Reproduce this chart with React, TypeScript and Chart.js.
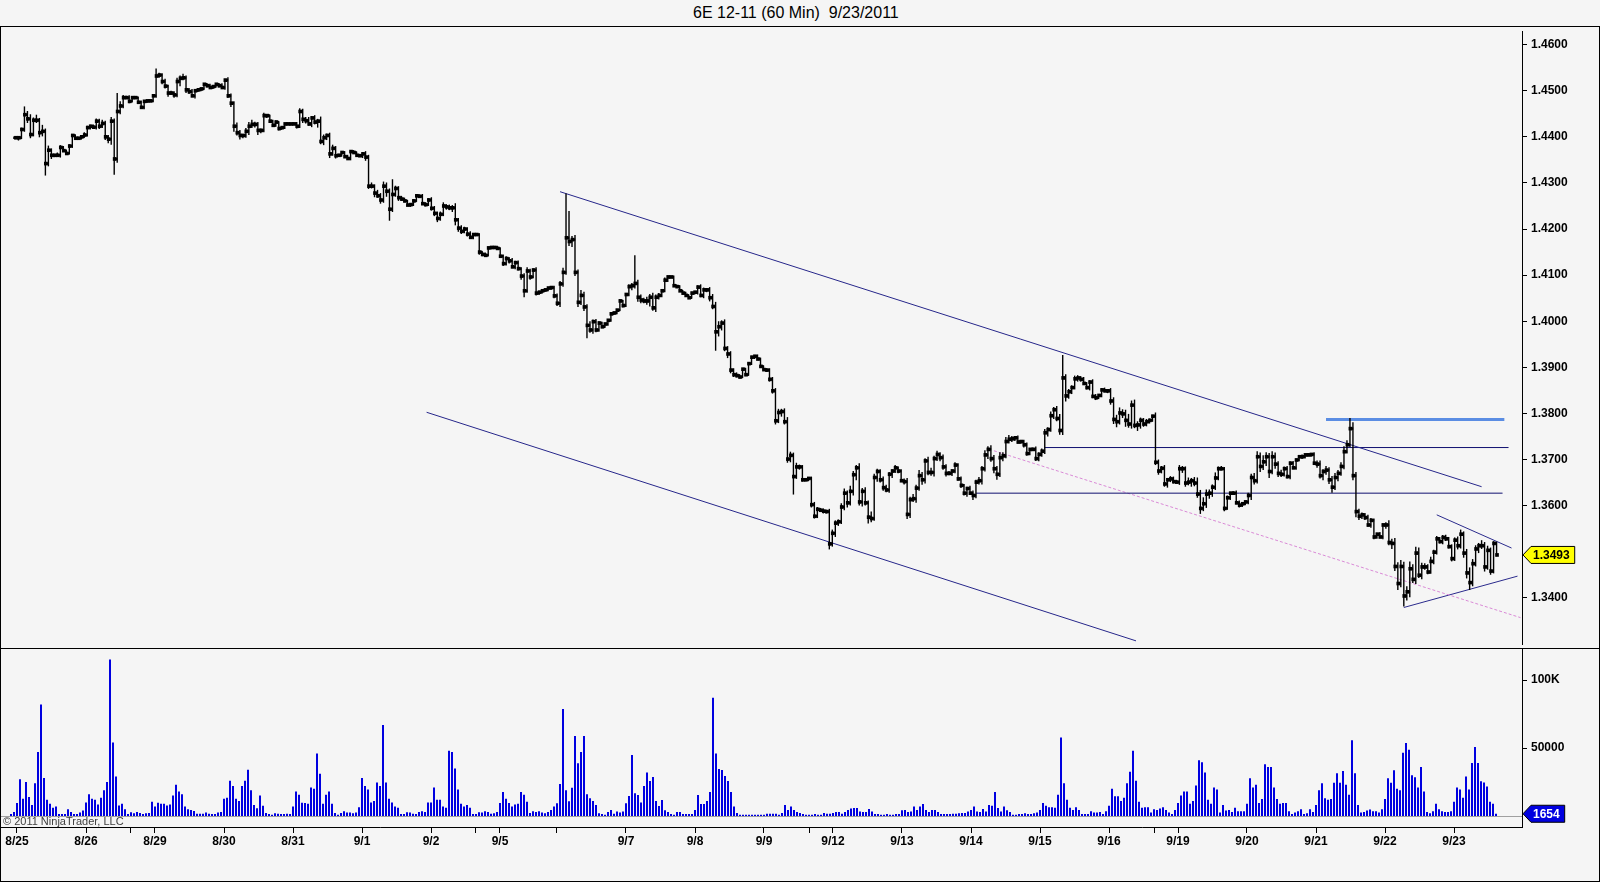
import { useEffect, useRef } from "react";
import { Chart, registerables, Plugin } from "chart.js";

Chart.register(...registerables);
Chart.defaults.font.family = "'Liberation Sans', Arial, sans-serif";

// 6E 12-11, 60 min bars, one row per session (closes)
const closes = [
  1.4398, 1.4398,
  1.4416, 1.4448, 1.4439, 1.4405, 1.4436, 1.4436, 1.4409, 1.4412, 1.4342, 1.4371, 1.4360, 1.4360, 1.4360, 1.4377, 1.4370, 1.4364, 1.4380, 1.4403, 1.4397, 1.4397, 1.4400, 1.4404, 1.4420,
  1.4423, 1.4421, 1.4434, 1.4423, 1.4429, 1.4400, 1.4395, 1.4434, 1.4352, 1.4455, 1.4467, 1.4485, 1.4485, 1.4477, 1.4485,
  1.4485, 1.4475, 1.4464, 1.4477, 1.4478, 1.4478, 1.4489, 1.4532,
  1.4534, 1.4520, 1.4510, 1.4495, 1.4495, 1.4491, 1.4520, 1.4527, 1.4528, 1.4502, 1.4498, 1.4489, 1.4500, 1.4502, 1.4504, 1.4514, 1.4511, 1.4507, 1.4509, 1.4514, 1.4511, 1.4507, 1.4523,
  1.4489, 1.4473, 1.4423, 1.4409, 1.4403, 1.4403, 1.4412, 1.4423, 1.4427, 1.4427, 1.4414, 1.4414, 1.4446, 1.4446, 1.4434, 1.4425, 1.4432, 1.4418, 1.4420, 1.4428, 1.4428, 1.4428, 1.4428,
  1.4423, 1.4455, 1.4438, 1.4435, 1.4428, 1.4441, 1.4432, 1.4434, 1.4390, 1.4398, 1.4403, 1.4363, 1.4375, 1.4359, 1.4360, 1.4366, 1.4357, 1.4353, 1.4368, 1.4366, 1.4360, 1.4359, 1.4363,
  1.4356, 1.4293, 1.4293, 1.4278, 1.4272, 1.4263, 1.4293, 1.4282, 1.4243, 1.4275, 1.4288, 1.4268, 1.4265, 1.4261, 1.4252, 1.4253, 1.4261, 1.4272, 1.4271, 1.4255, 1.4253, 1.4263, 1.4245,
  1.4234, 1.4223, 1.4232, 1.4250, 1.4248, 1.4246, 1.4246, 1.4220, 1.4202, 1.4195, 1.4200, 1.4189, 1.4182, 1.4188, 1.4188,
  1.4150, 1.4145, 1.4143, 1.4159, 1.4160, 1.4160, 1.4158, 1.4141,
  1.4125, 1.4136, 1.4131, 1.4118, 1.4127, 1.4114, 1.4098, 1.4066, 1.4109, 1.4096, 1.4111, 1.4061, 1.4063, 1.4066, 1.4068, 1.4072, 1.4073, 1.4055, 1.4039,
  1.4081, 1.4106, 1.4181, 1.4173, 1.4177, 1.4106, 1.4041, 1.4056, 1.4031, 1.3991, 1.3981, 1.3999, 1.3981, 1.3996, 1.3988, 1.3994, 1.4002, 1.4016, 1.4018, 1.4024, 1.4044, 1.4034, 1.4058,
  1.4075, 1.4077, 1.4082, 1.4052, 1.4046, 1.4044, 1.4044, 1.4052, 1.4029, 1.4052, 1.4056, 1.4066, 1.4089, 1.4096, 1.4096, 1.4077, 1.4075, 1.4066, 1.4061, 1.4056, 1.4051, 1.4061, 1.4063,
  1.4074, 1.4056, 1.4068, 1.4068, 1.4051, 1.4032, 1.3977, 1.3988, 1.3996, 1.3941, 1.3929, 1.3894, 1.3884, 1.3882, 1.3879, 1.3896, 1.3884, 1.3908, 1.3922, 1.3924, 1.3918, 1.3902, 1.3895,
  1.3894, 1.3874, 1.3849, 1.3784, 1.3802, 1.3804, 1.3782, 1.3701, 1.3709, 1.3663, 1.3684, 1.3684, 1.3656, 1.3656, 1.3659,
  1.3602, 1.3577, 1.3592, 1.3590, 1.3588, 1.3587, 1.3517, 1.3540,
  1.3562, 1.3565, 1.3597, 1.3627, 1.3606, 1.3631, 1.3667, 1.3682, 1.3608, 1.3631, 1.3606, 1.3575, 1.3572, 1.3661, 1.3674, 1.3656, 1.3639, 1.3634, 1.3668, 1.3675, 1.3682, 1.3675, 1.3654,
  1.3652, 1.3581, 1.3613, 1.3615, 1.3638, 1.3665, 1.3656, 1.3697, 1.3672, 1.3672, 1.3702, 1.3711, 1.3704, 1.3684, 1.3670, 1.3670, 1.3675, 1.3688, 1.3658, 1.3644, 1.3627, 1.3637, 1.3627,
  1.3622, 1.3651, 1.3654, 1.3680, 1.3710, 1.3722, 1.3702, 1.3680, 1.3668, 1.3704, 1.3708, 1.3739, 1.3744, 1.3745, 1.3747, 1.3738, 1.3739, 1.3732, 1.3713, 1.3722, 1.3722, 1.3702, 1.3711,
  1.3718, 1.3758, 1.3765, 1.3795, 1.3808, 1.3789, 1.3763, 1.3877, 1.3838, 1.3847, 1.3856, 1.3875, 1.3877, 1.3874, 1.3865, 1.3856, 1.3868, 1.3837, 1.3834, 1.3839, 1.3851, 1.3849, 1.3849,
  1.3827, 1.3787, 1.3782, 1.3801, 1.3799, 1.3785, 1.3777, 1.3818, 1.3774, 1.3775, 1.3785, 1.3777, 1.3782, 1.3785, 1.3794,
  1.3694, 1.3675, 1.3681, 1.3647, 1.3656, 1.3658, 1.3652, 1.3651,
  1.3680, 1.3680, 1.3649, 1.3651, 1.3654, 1.3649, 1.3625, 1.3594, 1.3604, 1.3625, 1.3627, 1.3640, 1.3660, 1.3680, 1.3680, 1.3594, 1.3617, 1.3627, 1.3627, 1.3606, 1.3601, 1.3604, 1.3608,
  1.3622, 1.3661, 1.3654, 1.3706, 1.3685, 1.3695, 1.3706, 1.3674, 1.3706, 1.3690, 1.3670, 1.3668, 1.3680, 1.3663, 1.3692, 1.3682, 1.3699, 1.3706, 1.3706, 1.3710, 1.3710, 1.3711, 1.3692,
  1.3690, 1.3665, 1.3674, 1.3677, 1.3656, 1.3640, 1.3661, 1.3670, 1.3685, 1.3717, 1.3732, 1.3767, 1.3665, 1.3587, 1.3577, 1.3580, 1.3574, 1.3558, 1.3568, 1.3532, 1.3538, 1.3532, 1.3558,
  1.3558, 1.3520, 1.3518, 1.3468, 1.3431, 1.3468, 1.3404, 1.3413, 1.3463, 1.3440, 1.3497, 1.3449, 1.3467, 1.3467, 1.3456, 1.3479, 1.3499, 1.3528, 1.3522, 1.3531, 1.3528, 1.3511, 1.3485,
  1.3525, 1.3513, 1.3538, 1.3497, 1.3454, 1.3433, 1.3474, 1.3506, 1.3513, 1.3513, 1.3467, 1.3503, 1.3458, 1.3518, 1.3493,
];

// wick beyond the open/close body, in pips
const wickUpPips = [
  3, 2,
  4, 18, 8, 10, 6, 12, 5, 14, 6, 10, 4, 3, 6, 5, 3, 2, 4, 3, 2, 3, 4, 6, 4,
  3, 4, 6, 5, 8, 6, 4, 9, 6, 40, 10, 6, 4, 5, 3,
  3, 2, 4, 3, 2, 3, 2, 16,
  5, 4, 6, 3, 5, 4, 8, 6, 9, 5, 4, 6, 3, 4, 2, 3, 2, 4, 3, 2, 3, 5, 3,
  6, 5, 4, 8, 6, 3, 7, 9, 10, 6, 5, 4, 6, 3, 2, 3, 4, 2, 3, 2, 3, 2, 3,
  4, 7, 6, 5, 8, 4, 6, 5, 10, 7, 4, 6, 8, 5, 3, 2, 3, 4, 2, 3, 2, 3, 4,
  6, 5, 8, 4, 7, 6, 10, 8, 6, 33, 6, 5, 4, 3, 2, 3, 4, 2, 3, 5, 3, 4, 6,
  5, 4, 6, 8, 4, 5, 6, 10, 4, 6, 5, 4, 6, 3, 2,
  3, 2, 4, 3, 2, 3, 4, 2,
  4, 5, 3, 6, 4, 5, 3, 6, 8, 5, 4, 6, 3, 4, 3, 2, 3, 4, 5,
  6, 10, 96, 58, 8, 10, 6, 12, 8, 6, 9, 5, 6, 4, 3, 2, 3, 4, 2, 3, 4, 2, 3,
  5, 6, 61, 8, 6, 5, 9, 7, 10, 6, 5, 4, 6, 3, 2, 3, 2, 3, 2, 3, 2, 3, 2,
  4, 6, 5, 4, 6, 8, 10, 12, 6, 8, 5, 6, 4, 5, 3, 2, 3, 2, 3, 2, 4, 3, 2,
  3, 4, 5, 6, 8, 6, 7, 10, 8, 6, 9, 5, 4, 3, 2,
  4, 6, 5, 3, 4, 3, 6, 8,
  6, 5, 8, 10, 6, 12, 8, 6, 10, 7, 9, 5, 12, 8, 6, 5, 7, 6, 5, 4, 6, 3, 4,
  5, 8, 6, 10, 7, 12, 8, 6, 9, 10, 6, 8, 5, 7, 6, 5, 4, 6, 4, 5, 3, 4, 6,
  6, 5, 8, 6, 10, 7, 9, 8, 6, 12, 8, 10, 9, 6, 4, 5, 3, 4, 5, 3, 4, 6, 5,
  6, 8, 5, 9, 6, 8, 10, 50, 8, 6, 5, 7, 6, 4, 5, 3, 4, 6, 5, 3, 4, 5, 3,
  6, 8, 10, 12, 8, 9, 14, 10, 12, 8, 6, 5, 6, 4, 3,
  8, 6, 5, 7, 4, 6, 5, 4,
  8, 6, 5, 10, 6, 8, 12, 9, 14, 10, 8, 6, 12, 5, 6, 4, 5, 3, 4, 6, 5, 4, 3,
  6, 8, 10, 12, 9, 14, 10, 8, 12, 9, 6, 8, 5, 6, 4, 5, 3, 4, 5, 3, 4, 3, 5,
  6, 8, 5, 9, 6, 8, 10, 7, 9, 12, 10, 23, 14, 8, 6, 5, 4, 6, 5, 4, 3, 5, 4,
  6, 10, 8, 12, 9, 14, 10, 12, 16, 10, 14, 12, 9, 8, 6, 10, 5, 6, 4, 5, 6, 4, 5,
  6, 8, 10, 6, 9, 12, 10, 8, 6, 12, 8, 10, 6, 5, 4,
];

const wickDownPips = [
  3, 6,
  3, 5, 9, 8, 4, 6, 10, 8, 26, 6, 8, 4, 3, 5, 2, 3, 2, 4, 3, 2, 3, 2, 3,
  4, 3, 5, 6, 4, 7, 9, 12, 34, 8, 6, 5, 3, 4, 2,
  2, 3, 2, 4, 3, 2, 3, 4,
  4, 6, 5, 8, 4, 6, 5, 10, 4, 7, 5, 3, 6, 2, 3, 2, 4, 2, 3, 2, 4, 3, 5,
  5, 8, 12, 6, 9, 6, 5, 8, 4, 7, 10, 6, 4, 5, 3, 2, 3, 4, 2, 3, 2, 3, 2,
  5, 4, 8, 6, 4, 7, 5, 12, 6, 8, 5, 9, 4, 6, 2, 3, 2, 3, 4, 2, 3, 2, 5,
  8, 6, 5, 9, 4, 8, 6, 12, 25, 6, 5, 7, 4, 3, 2, 4, 3, 2, 3, 2, 4, 3, 5,
  6, 8, 5, 4, 6, 5, 9, 12, 8, 6, 4, 5, 3, 4, 2,
  6, 4, 3, 2, 3, 2, 3, 4,
  5, 4, 6, 3, 5, 4, 8, 14, 4, 6, 3, 5, 4, 3, 2, 3, 4, 5, 6,
  8, 6, 5, 10, 12, 8, 10, 6, 9, 28, 6, 8, 5, 4, 3, 2, 4, 3, 2, 3, 2, 4, 3,
  4, 8, 6, 10, 7, 5, 8, 12, 6, 9, 5, 4, 3, 4, 2, 3, 2, 2, 3, 2, 3, 2, 3,
  5, 4, 6, 5, 8, 6, 41, 10, 8, 6, 9, 7, 5, 4, 3, 2, 3, 2, 3, 4, 2, 3, 2,
  4, 5, 6, 8, 5, 9, 6, 8, 7, 39, 5, 6, 4, 3, 3,
  6, 5, 4, 3, 5, 4, 12, 6,
  8, 6, 5, 7, 10, 6, 9, 12, 8, 10, 6, 14, 8, 5, 9, 6, 7, 5, 6, 8, 4, 5, 3,
  6, 10, 8, 5, 9, 6, 11, 8, 6, 7, 9, 5, 8, 6, 7, 4, 6, 5, 4, 6, 5, 8, 4,
  10, 6, 5, 8, 6, 9, 7, 10, 12, 6, 8, 5, 4, 6, 5, 3, 4, 6, 5, 4, 3, 5, 6,
  5, 6, 8, 5, 7, 6, 9, 10, 12, 6, 5, 4, 6, 5, 3, 4, 6, 4, 5, 3, 4, 3, 5,
  8, 10, 12, 6, 9, 14, 8, 10, 6, 12, 8, 6, 5, 4, 3,
  6, 8, 5, 6, 8, 5, 4, 3,
  6, 9, 8, 5, 10, 7, 8, 12, 6, 9, 10, 8, 6, 5, 4, 6, 3, 5, 4, 3, 5, 4, 3,
  5, 10, 8, 6, 12, 8, 9, 14, 6, 10, 8, 6, 5, 4, 6, 3, 4, 3, 5, 4, 3, 4, 3,
  8, 6, 10, 7, 9, 12, 6, 8, 5, 6, 4, 5, 10, 12, 8, 6, 5, 4, 6, 5, 4, 3, 5,
  8, 6, 12, 10, 14, 8, 23, 10, 12, 8, 10, 6, 9, 6, 5, 4, 6, 5, 4, 6, 5, 4, 6,
  5, 8, 6, 10, 12, 16, 8, 6, 9, 7, 10, 6, 8, 5, 3,
];

// contracts per bar
const volumes = [
  1500, 3000,
  9500, 27000, 12700, 25000, 14000, 8000, 24000, 47000, 82000, 28000, 12000, 9000, 6000, 7000, 1500, 1500, 1500, 5000, 3000, 1500, 1500, 2500, 4000,
  10000, 16000, 12700, 12000, 8500, 13500, 19000, 25000, 115000, 54000, 29000, 7700, 9000, 5000, 1500,
  2700, 2000, 3000, 2200, 1500, 2000, 2200, 10500,
  7000, 9700, 9000, 9000, 7700, 8500, 15000, 23000, 18000, 16000, 7000, 5000, 4500, 3700, 1700, 1700, 1700, 2500, 1700, 1500, 1500, 2500, 3000,
  12700, 13500, 26000, 22000, 12700, 11000, 22000, 26000, 34000, 19000, 8000, 5700, 15000, 7500, 2200, 1500, 1000, 2000, 1700, 1500, 1500, 1700, 1500,
  7000, 18000, 15700, 9700, 9500, 9000, 21000, 20000, 46000, 31000, 9000, 15700, 18000, 9000, 2200, 1000, 2200, 3500, 2500, 2500, 2000, 2500, 6500,
  28000, 22000, 19400, 10000, 11000, 24600, 22000, 67000, 24600, 12700, 10000, 7000, 6000, 1500, 1500, 2700, 2500, 1700, 1500, 3000, 3500, 3000, 10000,
  10000, 21000, 12000, 12000, 7000, 6000, 48000, 47000, 35000, 19400, 9000, 7000, 8000, 6000, 1500,
  1500, 2700, 2500, 3500, 3000, 1700, 2000, 3000,
  9500, 17700, 12700, 9500, 7000, 8500, 9000, 17700, 15700, 10500, 2200, 3500, 3000, 3500, 2500, 2000, 3000, 4400, 6900,
  9300, 23500, 78600, 19000, 10800, 20800, 58800, 38700, 47000, 58800, 16000, 13000, 11000, 8000, 2000, 1500, 1000, 3000, 4400, 1700, 3400, 2500, 3400,
  9300, 14700, 44800, 16700, 15400, 10000, 22000, 32000, 25700, 28700, 11000, 7400, 11800, 4200, 3000, 1500, 1000, 3000, 3000, 1500, 1500, 1500, 1500,
  4400, 15400, 8800, 8800, 11000, 17600, 87000, 46000, 34500, 33800, 29400, 25700, 17600, 6900, 2200, 1000, 1000, 1000, 1000, 1000, 1000, 1000, 1000,
  1000, 1700, 1700, 1700, 1700, 1000, 2200, 8000, 4400, 6900, 4400, 3000, 2200, 1500, 1000,
  1000, 1000, 1500, 1000, 1000, 2200, 1700, 1700,
  2200, 3000, 3000, 1700, 3000, 4400, 5600, 5900, 5900, 3400, 3000, 3000, 5100, 3400, 1500, 1500, 1000, 1000, 1500, 1000, 1000, 1500, 1500,
  4200, 4400, 3000, 3400, 6900, 4400, 6900, 8800, 4400, 3000, 4400, 4400, 3000, 1500, 1500, 1500, 1500, 1700, 1700, 2000, 2200, 2200, 3400,
  4400, 6900, 3400, 3000, 5100, 3400, 8000, 7600, 17600, 5900, 3400, 6900, 4200, 3000, 1000, 1000, 1500, 1500, 2000, 1500, 1500, 2000, 2500,
  4500, 9500, 7500, 6500, 6500, 6000, 15700, 57700, 24000, 12000, 6000, 4500, 6500, 4500, 1500, 1500, 1500, 3500, 2500, 2500, 3000, 1500, 3500,
  7500, 20000, 14500, 14500, 11000, 13500, 24000, 32500, 48000, 26000, 10500, 6000, 6500, 6500, 2500,
  5000, 4500, 5500, 6500, 4500, 2500, 1500, 4500,
  9500, 15000, 18000, 18000, 9000, 11000, 22500, 41000, 39500, 32000, 12000, 9000, 21000, 19500, 2500, 8000, 4000, 4500, 3000, 6000, 3500, 3500, 3500,
  9000, 27700, 21000, 23000, 9500, 12500, 38000, 36000, 36000, 21000, 12500, 9000, 9500, 9500, 3500, 1500, 2500, 3500, 5000, 1500, 2000, 5000, 3000,
  8000, 19000, 24000, 13000, 12000, 12500, 24500, 31500, 24500, 33000, 23000, 15700, 55700, 31500, 8000, 2500, 3000, 4000, 4700, 3500, 3500, 2500, 5000,
  12500, 27700, 24500, 33700, 20000, 19000, 46500, 53700, 48700, 30000, 28500, 21000, 36000, 18000, 3000, 2000, 3500, 9000, 5000, 3500, 3000, 3000, 3500,
  10500, 21000, 19500, 13500, 29000, 19500, 39000, 50700, 39000, 25500, 24700, 21700, 10500, 9000, 1654,
];

// first bar of each date on the time axis
const dayStarts = [2, 25, 40, 48, 71, 94, 117, 140, 155, 163, 182, 205, 228, 251, 266, 274, 297, 320, 343, 366, 381, 389, 412, 435, 458, 481];
const dayLabels = ["8/25", "8/26", "", "8/29", "8/30", "8/31", "9/1", "9/2", "", "9/5", "", "9/7", "9/8", "9/9", "", "9/12", "9/13", "9/14", "9/15", "9/16", "", "9/19", "9/20", "9/21", "9/22", "9/23"];

const priceTicks = [1.34, 1.36, 1.37, 1.38, 1.39, 1.4, 1.41, 1.42, 1.43, 1.44, 1.45, 1.46];
const volumeTicks = [50000, 100000];

// drawn objects (bar index, price)
const channelTop = [{ x: 182, y: 1.4281 }, { x: 490, y: 1.3641 }];
const channelBottom = [{ x: 137.4, y: 1.38025 }, { x: 374.5, y: 1.33066 }];
const rangeHigh = [{ x: 344, y: 1.3726 }, { x: 499, y: 1.3726 }];
const rangeLow = [{ x: 321, y: 1.3627 }, { x: 497, y: 1.3627 }];
const spikeHigh = [{ x: 438, y: 1.3787 }, { x: 497.6, y: 1.3787 }];
const midLine = [{ x: 327, y: 1.3719 }, { x: 503, y: 1.3357 }];
const wedgeTop = [{ x: 475, y: 1.358 }, { x: 500, y: 1.3508 }];
const wedgeBottom = [{ x: 464, y: 1.3379 }, { x: 502, y: 1.3447 }];

const AXIS_W = 78;
const PLOT_W = 1600 - AXIS_W;
const FONT = "'Liberation Sans', Arial, sans-serif";

function tagPlugin(text: string, value: number, fill: string, color: string): Plugin {
  return {
    id: "lastTag",
    afterDraw(chart) {
      const { ctx, chartArea } = chart;
      const y = chart.scales.y.getPixelForValue(value);
      const x = chartArea.right + 1;
      ctx.save();
      ctx.font = `bold 12px ${FONT}`;
      const w = ctx.measureText(text).width + 7;
      const h = 17;
      ctx.beginPath();
      ctx.moveTo(x, y);
      ctx.lineTo(x + 8, y - h / 2);
      ctx.lineTo(x + 8 + w, y - h / 2);
      ctx.lineTo(x + 8 + w, y + h / 2);
      ctx.lineTo(x + 8, y + h / 2);
      ctx.closePath();
      ctx.fillStyle = fill;
      ctx.fill();
      ctx.strokeStyle = "#000";
      ctx.lineWidth = 1;
      ctx.stroke();
      ctx.fillStyle = color;
      ctx.textBaseline = "middle";
      ctx.fillText(text, x + 10, y + 1);
      ctx.restore();
    },
  };
}

const zeroLine: Plugin = {
  id: "zeroLine",
  beforeDatasetsDraw(chart) {
    const { ctx, chartArea } = chart;
    const y = Math.round(chart.scales.y.getPixelForValue(0)) + 0.5;
    ctx.save();
    ctx.strokeStyle = "#a0a0a0";
    ctx.lineWidth = 1;
    ctx.beginPath();
    ctx.moveTo(chartArea.left, y);
    ctx.lineTo(chartArea.right, y);
    ctx.stroke();
    ctx.restore();
  },
};

function trend(data: { x: number; y: number }[], color: string, width = 1, dash: number[] = []) {
  return {
    type: "line" as const,
    data,
    borderColor: color,
    borderWidth: width,
    borderDash: dash,
    pointRadius: 0,
    fill: false,
    tension: 0,
    order: 3,
  };
}

const fixY = (axis: any) => {
  axis.width = AXIS_W;
  axis.paddingTop = 0;
  axis.paddingBottom = 0;
};

function App() {
  const priceRef = useRef<HTMLCanvasElement | null>(null);
  const volumeRef = useRef<HTMLCanvasElement | null>(null);

  useEffect(() => {
    document.body.style.margin = "0";
    if (!priceRef.current || !volumeRef.current) return;

    const n = Math.min(closes.length, wickUpPips.length, wickDownPips.length, volumes.length);
    const ranges = [];
    const opens = [];
    for (let i = 0; i < n; i++) {
      const open = i === 0 ? closes[0] : closes[i - 1];
      const hi = Math.max(open, closes[i]) + wickUpPips[i] * 0.0001;
      const lo = Math.min(open, closes[i]) - wickDownPips[i] * 0.0001;
      ranges.push({ x: i, y: [lo, hi] });
      opens.push({ x: i - 0.33, y: open });
    }
    const closePts = closes.slice(0, n).map((c, i) => ({ x: i + 0.15, y: c }));
    const volPts = volumes.slice(0, n).map((v, i) => ({ x: i, y: v }));

    const tickFont = { family: FONT, size: 12, weight: "bold" as const };

    const priceChart = new Chart(priceRef.current, {
      type: "bar",
      data: {
        datasets: [
          trend(channelTop, "#26268a"),
          trend(channelBottom, "#26268a"),
          trend(rangeHigh, "#101070"),
          trend(rangeLow, "#101070"),
          trend(spikeHigh, "#5b8de3", 3),
          trend(midLine, "#d98ad6", 1, [3, 2]),
          trend(wedgeTop, "#2a2a8c"),
          trend(wedgeBottom, "#2a2a8c"),
          {
            type: "bar",
            data: ranges as any,
            backgroundColor: "#000",
            barThickness: 1.4,
            grouped: false,
            inflateAmount: 0,
            order: 2,
          } as any,
          {
            type: "scatter",
            data: opens,
            pointStyle: "rect",
            pointRadius: 1.8,
            backgroundColor: "#000",
            borderWidth: 0,
            order: 1,
          } as any,
          {
            type: "scatter",
            data: closePts,
            pointStyle: "rect",
            pointRadius: 2.6,
            backgroundColor: "#000",
            borderWidth: 0,
            order: 0,
          } as any,
        ],
      },
      options: {
        responsive: false,
        animation: false,
        events: [],
        layout: { padding: 0 },
        plugins: { legend: { display: false }, tooltip: { enabled: false } },
        scales: {
          x: {
            type: "linear",
            min: -11.5 / 3,
            max: (PLOT_W - 11.5) / 3,
            offset: false,
            display: false,
          },
          y: {
            position: "right",
            min: 1.32998,
            max: 1.46296,
            beginAtZero: false,
            afterBuildTicks: (axis: any) => {
              axis.ticks = priceTicks.map((value) => ({ value }));
            },
            afterFit: fixY,
            grid: { drawOnChartArea: false, tickLength: 5, color: "#000" },
            border: { color: "#000" },
            ticks: {
              font: tickFont,
              color: "#000",
              padding: 4,
              callback: (v: any) => Number(v).toFixed(4),
            },
          },
        },
      },
      plugins: [tagPlugin(closes[n - 1].toFixed(4), closes[n - 1], "#ffff00", "#000")],
    });

    const volumeChart = new Chart(volumeRef.current, {
      type: "bar",
      data: {
        datasets: [
          {
            data: volPts as any,
            backgroundColor: "#0000e0",
            barThickness: 2,
            inflateAmount: 0,
            grouped: false,
          },
        ],
      },
      options: {
        responsive: false,
        animation: false,
        events: [],
        layout: { padding: 0 },
        plugins: { legend: { display: false }, tooltip: { enabled: false } },
        scales: {
          x: {
            type: "linear",
            min: -11 / 3,
            max: (PLOT_W - 11) / 3,
            offset: false,
            afterBuildTicks: (axis: any) => {
              axis.ticks = dayStarts.map((value) => ({ value }));
            },
            afterFit: (axis: any) => {
              axis.height = 55;
              axis.paddingLeft = 0;
              axis.paddingRight = 0;
            },
            grid: { drawOnChartArea: false, tickLength: 6, color: "#000", offset: false },
            border: { color: "#000" },
            ticks: {
              autoSkip: false,
              maxRotation: 0,
              minRotation: 0,
              padding: 1,
              font: tickFont,
              color: "#000",
              callback: (_v: any, i: number) => dayLabels[i],
            },
          },
          y: {
            position: "right",
            min: -8088,
            max: 122795,
            beginAtZero: false,
            afterBuildTicks: (axis: any) => {
              axis.ticks = volumeTicks.map((value) => ({ value }));
            },
            afterFit: fixY,
            grid: { drawOnChartArea: false, tickLength: 5, color: "#000" },
            border: { color: "#000" },
            ticks: {
              font: tickFont,
              color: "#000",
              padding: 4,
              callback: (v: any) => (Number(v) >= 100000 ? `${Number(v) / 1000}K` : String(v)),
            },
          },
        },
      },
      plugins: [zeroLine, tagPlugin(String(volumes[n - 1]), volumes[n - 1], "#0000e0", "#fff")],
    });

    return () => {
      priceChart.destroy();
      volumeChart.destroy();
    };
  }, []);

  const line = (style: React.CSSProperties) => (
    <div style={{ position: "absolute", background: "#000", ...style }} />
  );

  return (
    <div
      style={{
        position: "absolute",
        left: 0,
        top: 0,
        width: 1600,
        height: 882,
        background: "#f5f5f5",
        overflow: "hidden",
        fontFamily: FONT,
      }}
    >
      <div
        style={{
          position: "absolute",
          left: 693,
          top: 4,
          fontSize: 16,
          lineHeight: "18px",
          whiteSpace: "pre",
          color: "#000",
        }}
      >
        6E 12-11 (60 Min)  9/23/2011
      </div>
      <canvas
        ref={priceRef}
        width={1600}
        height={621}
        style={{ position: "absolute", left: 0, top: 27, width: 1600, height: 621 }}
      />
      <canvas
        ref={volumeRef}
        width={1600}
        height={233}
        style={{ position: "absolute", left: 0, top: 649, width: 1600, height: 233 }}
      />
      <div
        style={{
          position: "absolute",
          left: 3,
          top: 815,
          fontSize: 11,
          lineHeight: "12px",
          color: "#404040",
          whiteSpace: "pre",
        }}
      >
        © 2011 NinjaTrader, LLC
      </div>
      {line({ left: 0, top: 26, width: 1600, height: 1 })}
      {line({ left: 0, top: 648, width: 1600, height: 1 })}
      {line({ left: 0, top: 26, width: 1, height: 856 })}
      {line({ left: 1599, top: 26, width: 1, height: 856 })}
      {line({ left: 0, top: 881, width: 1600, height: 1 })}
    </div>
  );
}

export default App;
